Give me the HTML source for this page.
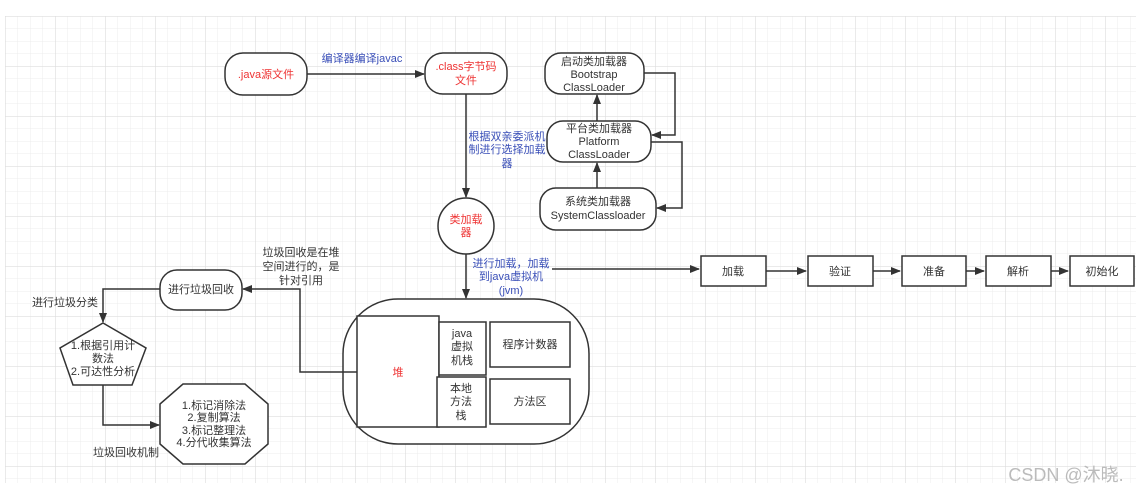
<!DOCTYPE html>
<html><head><meta charset="utf-8"><style>
html,body{margin:0;padding:0;background:#fff;}
svg{display:block;font-family:"Liberation Sans","Noto Sans CJK SC",sans-serif;}
</style></head><body>
<svg width="1138" height="497" viewBox="0 0 1138 497" xmlns="http://www.w3.org/2000/svg">
<defs>
<pattern id="minor" x="5" y="16" width="12.5" height="12.5" patternUnits="userSpaceOnUse">
<path d="M0 0V12.5M0 0H12.5" stroke="#ececec" stroke-width="1" fill="none"/>
</pattern>
<pattern id="major" x="5" y="16" width="50" height="50" patternUnits="userSpaceOnUse">
<path d="M0 0V50M0 0H50" stroke="#dedede" stroke-width="1.3" fill="none"/>
</pattern>
<marker id="a" markerWidth="10" markerHeight="8" refX="9" refY="4" orient="auto" markerUnits="userSpaceOnUse">
<path d="M0 0L10 4L0 8Z" fill="#333"/>
</marker>
</defs>
<rect x="5" y="16" width="1131" height="467" fill="url(#minor)"/>
<rect x="5" y="16" width="1131" height="467" fill="url(#major)"/>

<g stroke="#333" stroke-width="1.5" fill="#fff">
<rect x="225" y="53" width="82" height="42" rx="18"/>
<rect x="425" y="53" width="82" height="41" rx="18"/>
<rect x="545" y="53" width="99" height="41" rx="16"/>
<rect x="547" y="121" width="104" height="41" rx="16"/>
<rect x="540" y="188" width="116" height="42" rx="16"/>
<circle cx="466" cy="226" r="28"/>
<rect x="160" y="270" width="82" height="40" rx="17"/>
<polygon points="103,323 146,348 132,385 73,385 60,348"/>
<polygon points="183,384 245,384 268,404 268,444 245,464 183,464 160,444 160,404"/>
<rect x="343" y="299" width="246" height="145" rx="55"/>
<rect x="357" y="316" width="82" height="111"/>
<rect x="439" y="322" width="47" height="53"/>
<rect x="437" y="377" width="49" height="50"/>
<rect x="490" y="322" width="80" height="45"/>
<rect x="490" y="379" width="80" height="45"/>
<rect x="701" y="256" width="65" height="30"/>
<rect x="808" y="256" width="65" height="30"/>
<rect x="902" y="256" width="64" height="30"/>
<rect x="986" y="256" width="65" height="30"/>
<rect x="1070" y="256" width="64" height="30"/>
</g>

<g stroke="#333" stroke-width="1.5" fill="none" marker-end="url(#a)">
<path d="M307 74H424"/>
<path d="M597 121V95"/>
<path d="M597 188V163"/>
<path d="M644 73H675V135H652"/>
<path d="M651 142H682V208H657"/>
<path d="M466 94V197"/>
<path d="M466 254V298"/>
<path d="M552 269H699"/>
<path d="M766 271H806"/>
<path d="M873 271H900"/>
<path d="M966 271H984"/>
<path d="M1051 271H1068"/>
<path d="M357 372H300V289H243"/>
<path d="M160 289H103V322"/>
<path d="M103 385V425H159"/>
</g>

<g font-size="11" text-anchor="middle" fill="#333">
<text x="266" y="78" fill="#e33">.java源文件</text>
<text x="466" y="70" fill="#e33">.class字节码</text>
<text x="466" y="84" fill="#e33">文件</text>
<text x="594" y="65">启动类加载器</text>
<text x="594" y="78">Bootstrap</text>
<text x="594" y="91">ClassLoader</text>
<text x="599" y="132">平台类加载器</text>
<text x="599" y="145">Platform</text>
<text x="599" y="158">ClassLoader</text>
<text x="598" y="205">系统类加载器</text>
<text x="598" y="219">SystemClassloader</text>
<text x="466" y="223" fill="#e33">类加载</text>
<text x="466" y="236" fill="#e33">器</text>
<text x="201" y="293">进行垃圾回收</text>
<text x="103" y="349">1.根据引用计</text>
<text x="103" y="362">数法</text>
<text x="103" y="375">2.可达性分析</text>
<text x="214" y="409">1.标记消除法</text>
<text x="214" y="421">2.复制算法</text>
<text x="214" y="434">3.标记整理法</text>
<text x="214" y="446">4.分代收集算法</text>
<text x="398" y="376" fill="#e33">堆</text>
<text x="462" y="337">java</text>
<text x="462" y="350">虚拟</text>
<text x="462" y="364">机栈</text>
<text x="461" y="392">本地</text>
<text x="461" y="405">方法</text>
<text x="461" y="419">栈</text>
<text x="530" y="348">程序计数器</text>
<text x="530" y="405">方法区</text>
<text x="733" y="275">加载</text>
<text x="840" y="275">验证</text>
<text x="934" y="275">准备</text>
<text x="1018" y="275">解析</text>
<text x="1102" y="275">初始化</text>
<text x="301" y="256">垃圾回收是在堆</text>
<text x="301" y="270">空间进行的，是</text>
<text x="301" y="284">针对引用</text>
<text x="65" y="306">进行垃圾分类</text>
<text x="126" y="456">垃圾回收机制</text>
</g>
<g font-size="11" text-anchor="middle" fill="#3a4fb8">
<text x="362" y="62">编译器编译javac</text>
<text x="507" y="140">根据双亲委派机</text>
<text x="507" y="153">制进行选择加载</text>
<text x="507" y="167">器</text>
<text x="511" y="267">进行加载，加载</text>
<text x="511" y="280">到java虚拟机</text>
<text x="511" y="294">(jvm)</text>
</g>
<text x="1066" y="481" font-size="18" text-anchor="middle" fill="#bbb">CSDN @沐晓.</text>
</svg>
</body></html>
